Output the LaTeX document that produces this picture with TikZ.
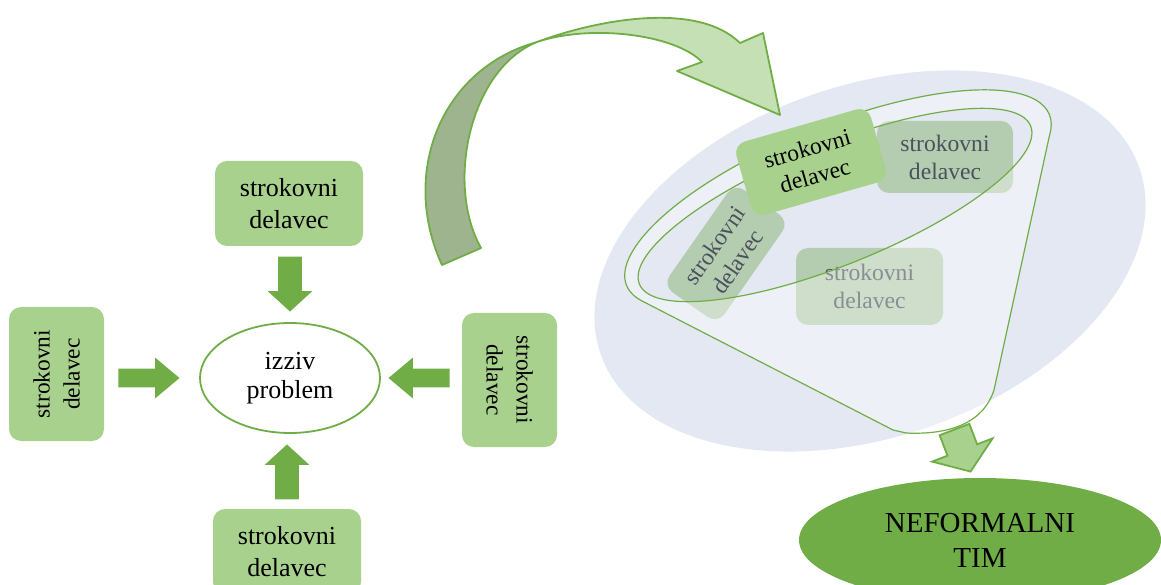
\documentclass[tikz,border=0pt]{standalone}
\usepackage{fontspec}
\setmainfont{Liberation Serif}
\usepackage{xcolor}
\usepackage{tikz}
\usetikzlibrary{shapes.geometric,shapes.arrows}
\definecolor{grnd}{HTML}{70AD47}
\definecolor{grnl}{HTML}{A9D18E}
\definecolor{grnp}{HTML}{C5E0B4}
\definecolor{grns}{HTML}{9EB48E}
\definecolor{grnf}{HTML}{B4CDB0}
\definecolor{bgbl}{HTML}{E4E8F3}
\definecolor{txgr}{HTML}{4B505C}

\begin{document}
\begin{tikzpicture}[x=0.5pt, y=0.5pt,
  sdbox/.style={rounded corners=6pt, fill=grnl, align=center, inner sep=0pt, minimum width=74pt, minimum height=42.5pt, font=\fontsize{13}{16}\selectfont},
  sdside/.style={sdbox, minimum width=67pt, minimum height=47.5pt, font=\fontsize{11.7}{15}\selectfont},
  sdfun/.style={rounded corners=6pt, align=center, inner sep=0pt, font=\fontsize{11.8}{14}\selectfont},
  faded/.style={sdfun, fill=grnf, text=txgr},
  fatv/.style={single arrow, fill=grnd, inner xsep=0pt, inner ysep=5.75pt, single arrow head extend=5.25pt, single arrow tip angle=95, minimum height=27.5pt, anchor=tip},
  fath/.style={single arrow, fill=grnd, inner xsep=0pt, inner ysep=4.5pt, single arrow head extend=5.5pt, single arrow tip angle=80, minimum height=30.5pt, anchor=tip},
  ribbon/.style={draw=grnd, line width=0.9pt, line join=round}]
  \useasboundingbox (0,0) rectangle (1161,584);
  \clip (0,0) rectangle (1161,584);
  \node[sdbox] (sdN) at (289,380.5) {strokovni\\delavec};
  \node[sdbox] (sdS) at (287,32.5) {strokovni\\delavec};
  \node[sdside, rotate=90] (sdW) at (56.5,210) {strokovni\\delavec};
  \node[sdside, rotate=-90] (sdE) at (509.5,204) {strokovni\\delavec};
  \node[ellipse, draw=grnd, line width=0.9pt, fill=white, minimum width=90pt, minimum height=55pt, inner sep=0pt, align=center, font=\fontsize{13}{14.5}\selectfont] (izziv) at (290,206) {izziv\\problem};
  \node[fatv, rotate=-90] (aN) at ([yshift=5pt]izziv.north) {};
  \node[fatv, rotate=90] (aS) at ([xshift=-1.5pt, yshift=-5pt]izziv.south) {};
  \node[fath] (aW) at ([xshift=-9.5pt]izziv.west) {};
  \node[fath, rotate=180] (aE) at ([xshift=3.5pt]izziv.east) {};
  \node[ellipse, fill=bgbl, minimum width=285pt, minimum height=176pt, rotate=19] (field) at (870,323) {};
  \node[faded, minimum width=68pt, minimum height=36pt] (sdR) at (945,427) {strokovni\\delavec};
  \node[faded, minimum width=73.5pt, minimum height=38.5pt] (sdC) at (869.5,297.5) {strokovni\\delavec};
  \node[faded, minimum width=62.5pt, minimum height=33.5pt, rotate=55] (sdL) at (726,330.5) {strokovni\\delavec};
  \draw[draw=grnd, line width=0.6pt, fill=white, fill opacity=0.35, even odd rule]
    ([shift={(838,384)}, rotate=22]195:228 and 75) coordinate (rimL)
    {[rotate=22] arc[start angle=195, end angle=-15, x radius=228, y radius=75]} coordinate (rimR)
    -- (994,194) .. controls (983,160) and (948,149) .. (906,151) -- (893,154) -- cycle
    {[rotate around={22:(835,379)}] (835,379) ellipse [x radius=211, y radius=60]};
  \node[sdfun, fill=grnl, minimum width=70pt, minimum height=38pt, rotate=16] (sdT) at (811,422) {strokovni\\delavec};
  \filldraw[ribbon, fill=grns] (442,319) .. controls (400,410) and (440,515) .. (537,542) coordinate (twist)
    .. controls (470,515) and (445,400) .. (481,336) -- cycle;
  \filldraw[ribbon, fill=grnp] (twist) .. controls (590,562) and (695,585) .. (740,541) -- (763,551)
    -- (780,469) -- (677,513) -- (702,522) .. controls (675,550) and (590,560) .. (twist) -- cycle;
  \node[ellipse, fill=grnd, minimum width=181pt, minimum height=62pt, inner sep=0pt, align=center, font=\fontsize{14.5}{17.5}\selectfont] (tim) at (980,44) {NEFORMALNI\\TIM};
  \node[single arrow, fill=grnl, draw=grnd, line width=0.9pt, inner xsep=0pt, inner ysep=7.5pt, single arrow head extend=8.25pt, single arrow tip angle=109, minimum height=22.5pt, rotate=-69, anchor=tip] (aT) at ([xshift=-4.5pt, yshift=2.5pt]tim.north) {};
\end{tikzpicture}
\end{document}
